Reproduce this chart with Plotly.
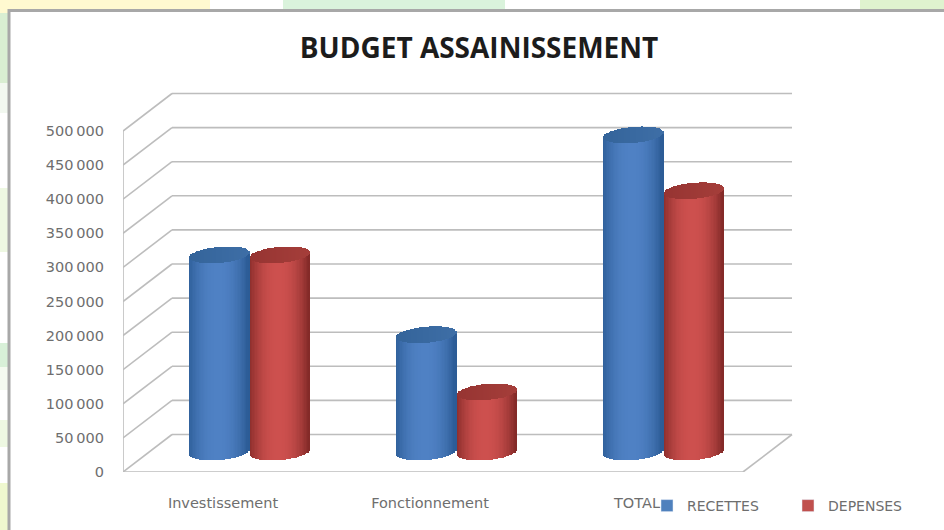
import math
import plotly.graph_objects as go

# ---- data ----
categories = ["Investissement", "Fonctionnement", "TOTAL"]
recettes = [289000, 172000, 465000]
depenses = [289000, 88000, 383000]
tick_values = [0, 50000, 100000, 150000, 200000, 250000, 300000, 350000, 400000, 450000, 500000]
tick_labels = ["0", "50\u2009000", "100\u2009000", "150\u2009000", "200\u2009000", "250\u2009000",
               "300\u2009000", "350\u2009000", "400\u2009000", "450\u2009000", "500\u2009000"]

W, H = 944, 530
PX_X = 207.0            # pixels per category
PX_Y = 0.000682         # pixels per value unit
X0_PX, X1_PX = 123, 800
Y0_PX, Y1_PX = 472, 80
CAT0_PX = 223
x_range = [(X0_PX - CAT0_PX) / PX_X, (X1_PX - CAT0_PX) / PX_X]
y_range = [0, (Y0_PX - Y1_PX) / PX_Y]

# 3-D look
dx = 49 / PX_X
dy = 37.5 / PX_Y
right_front = (743 - CAT0_PX) / PX_X
left = x_range[0]

fig = go.Figure()

STRIPS = 44
half_w = 30 / PX_X
b = 8 / PX_Y
tilt = 2.5 / PX_Y
base_c = 20 / PX_Y
center_off = 27 / PX_X
series_off = 30.3 / PX_X


def mix(c1, c2, t):
    return tuple(c1[i] + (c2[i] - c1[i]) * t for i in range(3))


def rgb(c):
    return "rgb(%d,%d,%d)" % tuple(round(v) for v in c)


def body_color(u, dark, mid):
    t = min(1.0, abs(u + 0.05) ** 2.2)
    return rgb(mix(mid, dark, t))


def cylinders(values, sign, dark, mid, cap_a, cap_b):
    bx, bb, bh, bc, cb, ch, cc = [], [], [], [], [], [], []
    for i, val in enumerate(values):
        cx = i + center_off + sign * series_off
        for k in range(STRIPS):
            u = -1 + (2 * k + 1) / STRIPS
            s = math.sqrt(1 - u * u)
            t_off = tilt * u
            bottom = base_c + t_off - b * s
            top = base_c + val + t_off
            bx.append(cx + u * half_w)
            bb.append(bottom)
            bh.append(top - bottom)
            bc.append(body_color(u, dark, mid))
            cb.append(top - b * s)
            ch.append(2 * b * s)
            cc.append(rgb(mix(cap_a, cap_b, (u + 1) / 2)))
    w = 2 * half_w / STRIPS * 1.15
    fig.add_trace(go.Bar(x=bx, y=bh, base=bb, width=w, marker=dict(color=bc, line=dict(width=0)),
                         hoverinfo="skip", showlegend=False))
    fig.add_trace(go.Bar(x=bx, y=ch, base=cb, width=w, marker=dict(color=cc, line=dict(width=0)),
                         hoverinfo="skip", showlegend=False))


cylinders(recettes, -1, (44, 92, 150), (79, 129, 196), (52, 100, 154), (62, 110, 166))
cylinders(depenses, 1, (132, 42, 40), (205, 80, 78), (150, 52, 50), (165, 62, 58))

# legend entries
fig.add_trace(go.Bar(x=[None], y=[None], name="RECETTES", marker_color="#4f81bd"))
fig.add_trace(go.Bar(x=[None], y=[None], name="DEPENSES", marker_color="#c0504d"))

shapes = []
def px_rect(x0, y0, x1, y1, color, layer="below", line=None):
    shapes.append(dict(type="rect", xref="paper", yref="paper", x0=x0 / W, x1=x1 / W,
                       y0=1 - y1 / H, y1=1 - y0 / H, fillcolor=color,
                       line=line or dict(width=0), layer=layer))

# page background strips
px_rect(0, 0, 210, 11, "#fff9d0")
px_rect(283, 0, 505, 11, "#daf3dc")
px_rect(860, 0, W, 11, "#dff3cf")
px_rect(0, 0, 9, 13, "#fff9d0")
px_rect(0, 13, 9, 83, "#d9eed2")
px_rect(0, 83, 9, 113, "#f2f8f0")
px_rect(0, 188, 9, 252, "#eef8e2")
px_rect(0, 343, 9, 367, "#d8f0d8")
px_rect(0, 367, 9, 390, "#f4faf0")
px_rect(0, 420, 9, 447, "#eef8e2")
px_rect(0, 483, 9, H, "#eff8cf")
# white chart panel
px_rect(9, 10.5, W + 4, H + 4, "#ffffff", line=dict(color="#a8a8a8", width=3))


def grid_line(x0, y0, x1, y1):
    shapes.append(dict(type="line", xref="x", yref="y", x0=x0, y0=y0, x1=x1, y1=y1,
                       line=dict(color="#bdbdbd", width=1.6), layer="below"))


# walls and floor, behind the cylinders
for v in tick_values:
    grid_line(left, v, left + dx, v + dy)
    grid_line(left + dx, v + dy, right_front + dx, v + dy)
grid_line(left, 0, left, tick_values[-1])
grid_line(left, 0, right_front, 0)
grid_line(right_front, 0, right_front + dx, dy)

fig.update_layout(
    width=W, height=H, margin=dict(l=0, r=0, t=0, b=0),
    paper_bgcolor="#ffffff", plot_bgcolor="rgba(0,0,0,0)",
    barmode="overlay", bargap=0, shapes=shapes,
    title=dict(text="<b>BUDGET ASSAINISSEMENT</b>", x=479 / W, xanchor="center",
               y=1 - 48 / H, yanchor="middle",
               font=dict(family="Open Sans", size=28, color="#1c1c1c")),
    xaxis=dict(domain=[X0_PX / W, X1_PX / W], range=x_range, tickmode="array", automargin=False,
               tickvals=[0, 1, 2], ticktext=categories, showgrid=False, zeroline=False,
               showline=False, ticks="", ticklabelstandoff=20,
               tickfont=dict(family="DejaVu Sans", size=14.5, color="#6e6e6e")),
    yaxis=dict(domain=[1 - Y0_PX / H, 1 - Y1_PX / H], range=y_range, tickmode="array", automargin=False,
               tickvals=tick_values, ticktext=tick_labels, showgrid=False, zeroline=False,
               showline=False, ticks="", ticklabelstandoff=18,
               tickfont=dict(family="DejaVu Sans", size=14.5, color="#6e6e6e")),
    legend=dict(orientation="h", x=647 / W, xanchor="left",
                y=1 - 506 / H, yanchor="middle",
                entrywidth=96, entrywidthmode="pixels", itemwidth=30,
                bgcolor="rgba(0,0,0,0)", traceorder="normal",
                font=dict(family="DejaVu Sans", size=14, color="#6e6e6e")),
)

fig.write_html("out.html", config=dict(displayModeBar=False),
               post_script="document.body.style.margin='0';")
